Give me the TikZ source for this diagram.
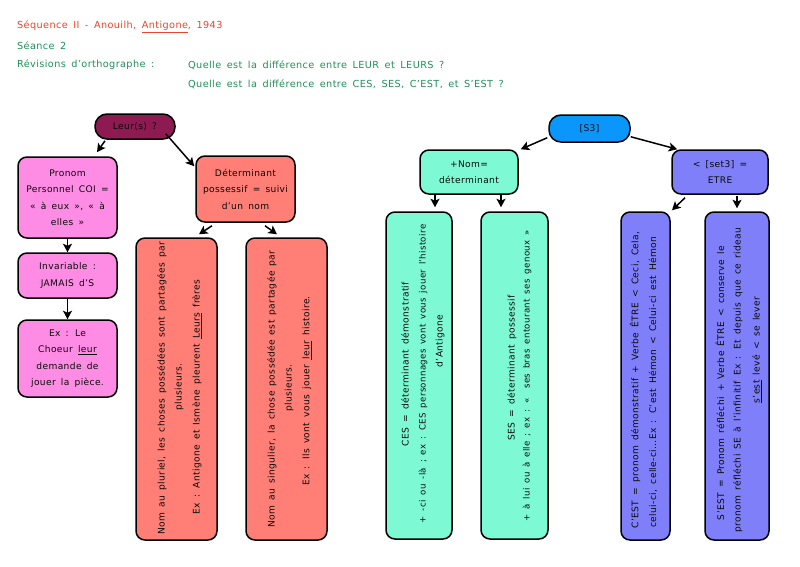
\documentclass[tikz,border=0pt]{standalone}
\usepackage{fontspec}
\setmainfont{DejaVu Sans}[LetterSpace=4, WordSpace=1.6]
\usetikzlibrary{arrows.meta}
\definecolor{hdrred}{HTML}{E8452C}
\definecolor{hdrgreen}{HTML}{1F9057}
\definecolor{txt}{HTML}{0A0A0A}
\definecolor{leurfill}{HTML}{8E1A52}
\definecolor{pinkfill}{HTML}{FF8CE4}
\definecolor{salmonfill}{HTML}{FF7E75}
\definecolor{bluefill}{HTML}{0A96FA}
\definecolor{aquafill}{HTML}{7DFAD3}
\definecolor{perifill}{HTML}{7F7FFA}
\newcommand\bxfont{\fontsize{9.1}{16.5}\selectfont}
\newcommand\bxsmall{\fontsize{8.6}{16.5}\selectfont}
\newcommand\hdfont{\fontsize{9.7}{11}\selectfont}
\tikzset{
  box/.style={draw=black, line width=1.5pt, rounded corners=9pt, inner sep=0pt,
    align=center, font=\bxfont, text=txt},
  pill/.style={box, rounded corners=12pt},
  rline/.style={rotate=90, inner sep=0pt, font=\bxfont, text=txt},
  hdr/.style={anchor=west, inner sep=0pt, font=\hdfont},
  arr/.style={line width=1.5pt, -{Stealth[length=8.5pt,width=9pt,inset=2pt]}}
}
\begin{document}
\begin{tikzpicture}[x=1pt,y=-1pt]
\useasboundingbox (0,0) rectangle (800,566);
% header
\node[hdr, text=hdrred] (h1) at (17,27) {Séquence II - Anouilh, \underline{Antigone}, 1943};
\node[hdr, text=hdrgreen] (h2) at (17,46) {Séance 2};
\node[hdr, text=hdrgreen] (h3) at (17,65) {Révisions d’orthographe :};
\node[hdr, text=hdrgreen] (h4) at (188,65) {Quelle est la différence entre LEUR et LEURS ?};
\node[hdr, text=hdrgreen] (h5) at (188,84) {Quelle est la différence entre CES, SES, C’EST, et S’EST ?};

% left tree
\node[pill, fill=leurfill, minimum width=80pt, minimum height=25pt] (leur) at (135,126.5) {Leur(s) ?};
\node[box, fill=pinkfill, minimum width=99pt, minimum height=81pt] (pronom) at (67.5,197.5)
  {Pronom\\Personnel COI =\\« à eux », « à\\elles »};
\node[box, fill=pinkfill, minimum width=99pt, minimum height=45pt] (invar) at (67.5,275.5)
  {Invariable :\\JAMAIS d’S};
\node[box, fill=pinkfill, minimum width=99pt, minimum height=77pt] (exle) at (67.5,358.5)
  {Ex : Le\\Choeur \underline{leur}\\demande de\\jouer la pièce.};
\node[box, fill=salmonfill, minimum width=99pt, minimum height=66pt] (det) at (245.5,189)
  {Déterminant\\possessif = suivi\\d’un nom};
\node[box, fill=salmonfill, minimum width=81pt, minimum height=302pt] (plur) at (176.5,389) {};
\node[box, fill=salmonfill, minimum width=81pt, minimum height=302pt] (sing) at (286.5,389) {};
\node[rline] (plur1) at (162,388) {Nom au pluriel, les choses possédées sont partagées par};
\node[rline] (plur2) at (179,387) {plusieurs.};
\node[rline] (plur3) at (197,397) {Ex : Antigone et Ismène pleurent \underline{Leurs} frères};
\node[rline] (sing1) at (272,389) {Nom au singulier, la chose possédée est partagée par};
\node[rline] (sing2) at (289,388) {plusieurs.};
\node[rline] (sing3) at (307,391) {Ex : Ils vont vous jouer \underline{leur} histoire.};

% right tree
\node[pill, fill=bluefill, minimum width=81pt, minimum height=27pt] (s3) at (589.5,128.5) {[S3]};
\node[box, fill=aquafill, minimum width=98pt, minimum height=44pt] (nom) at (469,172) {+Nom=\\déterminant};
\node[box, fill=perifill, minimum width=96pt, minimum height=44pt] (set3) at (720,172) {< [set3] =\\ETRE};
\node[box, fill=aquafill, minimum width=66pt, minimum height=327pt] (ces) at (419,375.5) {};
\node[box, fill=aquafill, minimum width=67pt, minimum height=327pt] (ses) at (514.5,375.5) {};
\node[box, fill=perifill, minimum width=49pt, minimum height=328pt] (cest) at (645.5,376) {};
\node[box, fill=perifill, minimum width=64pt, minimum height=328pt] (sest) at (737,376) {};
\node[rline] (ces1) at (405,364) {CES = déterminant démonstratif};
\node[rline, font=\bxsmall] (ces2) at (423,374) {+ -ci ou -là ; ex : CES personnages vont vous jouer l’histoire};
\node[rline] (ces3) at (440,341) {d’Antigone};
\node[rline] (ses1) at (512,368) {SES = déterminant possessif};
\node[rline, font=\bxsmall] (ses2) at (527,376) {+ à lui ou à elle ; ex : «\ \ ses bras entourant ses genoux »};
\node[rline] (cest1) at (635,380) {C’EST = pronom démonstratif + Verbe ÊTRE < Ceci, Cela,};
\node[rline] (cest2) at (653,382) {celui-ci, celle-ci…Ex : C’est Hémon < Celui-ci est Hémon};
\node[rline] (sest1) at (720,383) {S’EST = Pronom réfléchi + Verbe ÊTRE < conserve le};
\node[rline] (sest2) at (738,380) {pronom réfléchi SE à l’infinitif Ex : Et depuis que ce rideau};
\node[rline] (sest3) at (757,350) {\underline{s’est} levé < se lever};

% connectors
\draw[arr] ([shift={(-30,1)}]leur.south) -- ([shift={(29.5,-4)}]pronom.north);
\draw[arr] ([shift={(-10,-6)}]leur.south east) -- ([shift={(-1,11)}]det.north west);
\draw[arr] (pronom.south) -- (invar.north);
\draw[arr] (invar.south) -- (exle.north);
\draw[arr] ([shift={(-33.5,3)}]det.south) -- ([shift={(22.5,-3)}]plur.north);
\draw[arr] ([shift={(19.5,3)}]det.south) -- ([shift={(-9.5,-3)}]sing.north);
\draw[arr] ([shift={(-1,-5)}]s3.south west) -- ([shift={(2,0)}]nom.north east);
\draw[arr] ([shift={(0,-6)}]s3.south east) -- ([shift={(6,0)}]set3.north west);
\draw[arr] ([shift={(-34,0)}]nom.south) -- ([shift={(16,-4)}]ces.north);
\draw[arr] ([shift={(32,0)}]nom.south) -- ([shift={(-13.5,-4)}]ses.north);
\draw[arr] ([shift={(-35,3)}]set3.south) -- ([shift={(26.5,-1)}]cest.north);
\draw[arr] ([shift={(17,1)}]set3.south) -- ([shift={(0,-3)}]sest.north);
\end{tikzpicture}
\end{document}
